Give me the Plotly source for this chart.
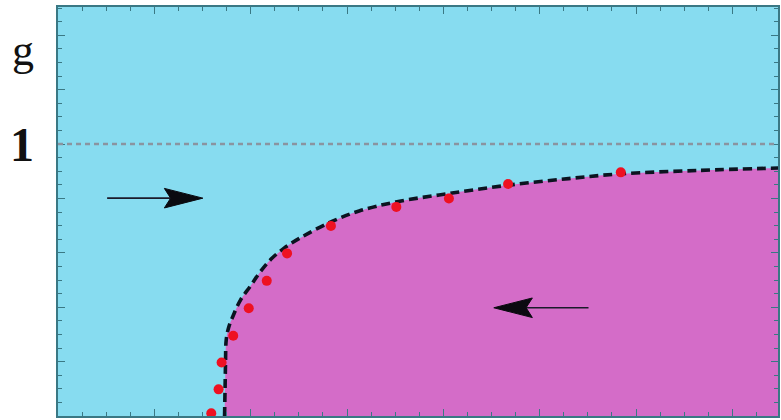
import plotly.graph_objects as go

# Phase boundary g_c(x) separating the two regions
boundary_x = [1.729, 1.734, 1.739, 1.746, 1.770, 1.817, 1.894, 1.998, 2.091, 2.212, 2.350,
              2.505, 2.816, 3.126, 3.506, 4.058, 4.679, 5.300, 5.818, 6.646, 7.484]
boundary_y = [0.000, 0.096, 0.195, 0.279, 0.324, 0.368, 0.426, 0.478, 0.526, 0.577, 0.618,
              0.653, 0.711, 0.754, 0.787, 0.818, 0.849, 0.873, 0.890, 0.903, 0.912]

# Numerical estimates of the transition point
points_x = [1.591, 1.667, 1.698, 1.819, 1.980, 2.167, 2.378, 2.833, 3.512, 4.058, 4.672, 5.842]
points_y = [0.010, 0.098, 0.197, 0.295, 0.396, 0.497, 0.598, 0.699, 0.769, 0.800, 0.853, 0.896]

# Flow arrows: (tail x, tip x, y)
arrows = [(0.510, 1.504, 0.801), (5.507, 4.524, 0.398)]

X_MAX = 7.474
Y_MAX = 1.504

CYAN = "#87DCF0"
MAGENTA = "#D46CC8"
FRAME = "#3A7884"

fig = go.Figure()

# Ordered region (below the boundary)
fig.add_trace(go.Scatter(
    x=boundary_x, y=boundary_y, mode="lines", fill="tozeroy",
    fillcolor=MAGENTA, line=dict(width=0, color=MAGENTA, shape="spline", smoothing=1.0),
    hoverinfo="skip", showlegend=False))

# Boundary curve
fig.add_trace(go.Scatter(
    x=boundary_x, y=boundary_y, mode="lines",
    line=dict(color="#0B1420", width=3.6, dash="9px,5px", shape="spline", smoothing=1.0),
    showlegend=False))

# Data points
fig.add_trace(go.Scatter(
    x=points_x, y=points_y, mode="markers",
    marker=dict(color="#EE1122", size=10, line=dict(width=0)),
    showlegend=False))

# Arrows: shaft plus notched head
head_len = 0.40
head_half = 0.036
notch = 0.065
for x0, x1, y in arrows:
    d = 1 if x1 > x0 else -1
    base = x1 - d * head_len
    fig.add_trace(go.Scatter(
        x=[x0, base + d * notch], y=[y, y], mode="lines",
        line=dict(color="#1A1A2A", width=1.6), showlegend=False, hoverinfo="skip"))
    fig.add_trace(go.Scatter(
        x=[x1, base, base + d * notch, base, x1],
        y=[y, y + head_half, y, y - head_half, y],
        mode="lines", fill="toself", fillcolor="#0A0A10",
        line=dict(color="#0A0A10", width=1), showlegend=False, hoverinfo="skip"))

# g = 1 reference line
fig.add_hline(y=1, line=dict(color="#8A94A0", width=2.5, dash="5px,4px"), layer="above")

axis_common = dict(
    showgrid=False, zeroline=False, showticklabels=False,
    showline=True, linecolor=FRAME, linewidth=2, mirror="ticks",
    ticks="inside", tickcolor=FRAME, ticklen=7, tickwidth=1.2,
)

fig.update_xaxes(range=[0, X_MAX], dtick=1, tick0=0,
                 minor=dict(dtick=0.25, ticks="inside", ticklen=4, tickcolor=FRAME, tickwidth=1),
                 **axis_common)
fig.update_yaxes(range=[0, Y_MAX], dtick=0.2, tick0=0,
                 minor=dict(dtick=0.05, ticks="inside", ticklen=4, tickcolor=FRAME, tickwidth=1),
                 **axis_common)

fig.add_annotation(text="g", xref="paper", yref="y", x=-0.048, y=1.345,
                   showarrow=False, xanchor="center", yanchor="middle",
                   font=dict(family="Liberation Serif", size=44, color="#111111"))
fig.add_annotation(text="<b>1</b>", xref="paper", yref="y", x=-0.050, y=1.0,
                   showarrow=False, xanchor="center", yanchor="middle",
                   font=dict(family="Liberation Serif", size=48, color="#111111"))

fig.update_layout(
    width=781, height=420,
    margin=dict(l=58, r=1, t=7, b=4),
    plot_bgcolor=CYAN, paper_bgcolor="white",
    showlegend=False,
)

fig.write_html("out.html")
